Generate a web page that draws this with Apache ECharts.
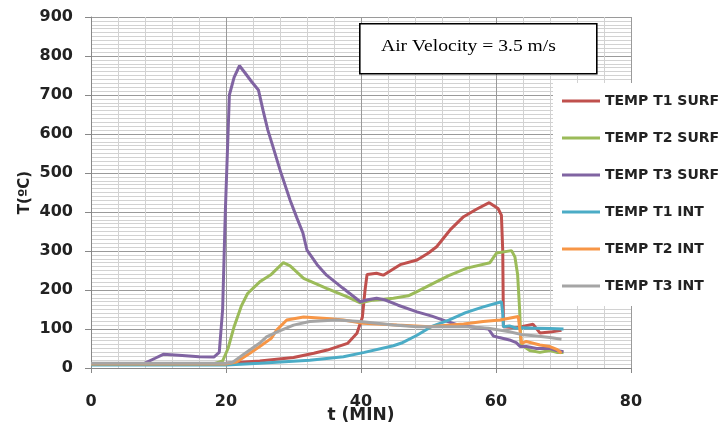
<!DOCTYPE html>
<html>
<head>
<meta charset="utf-8">
<script src="https://cdn.jsdelivr.net/npm/echarts@6/dist/echarts.min.js"></script>
<style>
html,body{margin:0;padding:0;background:#fff;}
#c{width:727px;height:429px;}
</style>
</head>
<body>
<div id="c"></div>
<script>
var seriesNames = ['TEMP T1 SURF','TEMP T2 SURF','TEMP T3 SURF','TEMP T1 INT','TEMP T2 INT','TEMP T3 INT'];
var xTicks = [0,20,40,60,80];
var yTicks = [0,100,200,300,400,500,600,700,800,900];

var t1Surf = [[0,10],[10,10],[20,12],[25,18],[30,27],[33,38],[35,46],[38,63],[39.4,89],[40.2,130],[40.6,200],[40.9,240],[42.3,243],[43.3,238],[45.8,265],[48.3,277],[50,295],[51.2,311],[53.2,354],[55.2,388],[57.1,407],[59,424],[60.3,409],[60.8,392],[61,300],[61.1,106],[63,103],[64.3,108],[65.5,112],[66.5,90],[68,92],[69.7,97]];
var t2Surf = [[0,10],[18,10],[19.5,18],[20.3,50],[21.2,106],[22.3,160],[23.2,191],[25,221],[26.7,240],[28.5,270],[29.5,262],[31.5,230],[34.9,204],[37.9,183],[39.9,167],[41.8,174],[44.8,179],[47,185],[48.3,196],[50.7,217],[53,237],[55.7,256],[59.1,270],[60.1,295],[62.3,301],[62.8,285],[63.2,240],[63.5,150],[63.7,60],[65,45],[66.5,40],[68,45],[69,40],[70,40]];
var t3Surf = [[0,10],[7.9,12],[9.5,25],[10.7,35],[13,33],[16,29],[18.2,28],[19,40],[19.5,150],[19.9,400],[20.5,700],[21.2,745],[22,775],[22.8,757],[23.8,734],[24.8,713],[25.5,660],[26.2,610],[27,565],[28,508],[29.5,430],[30.5,385],[31.4,346],[32,302],[33.5,265],[34.9,238],[37.3,205],[39.9,170],[41,175],[42.3,179],[43.5,175],[45.5,161],[48.3,144],[50.5,133],[52.5,121],[54.5,110],[57,104],[58.9,100],[59.6,82],[60.5,78],[62,72],[63,65],[63.6,55],[64.5,55],[66,50],[68,50],[69,45],[70,42]];
var t1Int = [[0,8],[20,8],[25,12],[32.4,20],[37.4,29],[40.5,40],[44.8,57],[46,64],[48.3,84],[50.4,106],[53,123],[55.5,142],[58,156],[60.8,170],[61,140],[61.1,106],[62,108],[63,102],[64,103],[66,102],[68,101],[70,100]];
var t2Int = [[0,10],[20,10],[21.5,15],[23.7,40],[25,55],[26.7,76],[27.5,97],[29,123],[31.5,131],[34.9,127],[37.4,123],[40.3,115],[45.3,110],[50.2,106],[53.2,110],[55.2,113],[58.1,119],[60.6,123],[63.3,132],[63.6,90],[63.8,63],[64.5,68],[66.5,59],[68,55],[69,48],[69.7,38]];
var t3Int = [[0,12],[20,12],[21,15],[23,40],[25,64],[26,80],[27.5,92],[30,110],[32.4,119],[36.4,123],[39.9,119],[44.8,110],[48.3,106],[55.7,106],[58.9,102],[62,93],[64,85],[66,82],[68,78],[69.7,74]];

var seriesData = [t1Surf,t2Surf,t3Surf,t1Int,t2Int,t3Int];
var colors = ['#C0504D','#9BBB59','#8064A2','#4BACC6','#F79646','#A5A5A5'];

var chart = echarts.init(document.getElementById('c'), null, {renderer:'canvas'});
var labelFont = 'DejaVu Sans';
chart.setOption({
  animation:false,
  backgroundColor:'#fff',
  color: colors,
  grid:{left:91,right:96,top:17,bottom:61,containLabel:false,outerBoundsMode:'none'},
  xAxis:{
    type:'value',min:xTicks[0],max:xTicks[xTicks.length-1],interval:20,
    name:'t (MIN)',nameLocation:'middle',nameGap:39,nameMoveOverlap:false,
    nameTextStyle:{fontFamily:labelFont,fontWeight:'bold',fontSize:17,color:'#222'},
    axisLine:{show:true,onZero:false,lineStyle:{color:'#888',width:1}},
    axisTick:{show:true,length:5,inside:false,lineStyle:{color:'#888'}},
    axisLabel:{margin:26,fontFamily:labelFont,fontWeight:'bold',fontSize:16,color:'#222'},
    splitLine:{show:true,lineStyle:{color:'#9a9a9a',width:1}},
    minorTick:{show:false,splitNumber:5},
    minorSplitLine:{show:true,lineStyle:{color:'#d2d2d2',width:1}}
  },
  yAxis:{
    type:'value',min:yTicks[0],max:yTicks[yTicks.length-1],interval:100,
    name:'T(ºC)',nameLocation:'middle',nameGap:58,nameRotate:90,nameMoveOverlap:false,
    nameTextStyle:{fontFamily:labelFont,fontWeight:'bold',fontSize:15,color:'#222'},
    axisLine:{show:true,lineStyle:{color:'#888',width:1}},
    axisTick:{show:true,length:6,lineStyle:{color:'#888'}},
    axisLabel:{margin:18,fontFamily:labelFont,fontWeight:'bold',fontSize:16,color:'#222'},
    splitLine:{show:true,lineStyle:{color:'#9a9a9a',width:1}},
    minorTick:{show:false,splitNumber:10},
    minorSplitLine:{show:true,lineStyle:{color:'#d2d2d2',width:1}}
  },
  legend:{
    orient:'vertical',left:553,top:83,
    backgroundColor:'#fff',
    padding:[11,10,13,9],
    icon:'rect',
    itemWidth:38,itemHeight:3,itemGap:23,
    textStyle:{fontFamily:labelFont,fontWeight:'bold',fontSize:14,lineHeight:14,color:'#222'},
    data:seriesNames
  },
  graphic:[
    {type:'rect',left:359,top:23,z:100,shape:{width:237,height:50},style:{fill:'#fff',stroke:'#000',lineWidth:1.6}},
    {type:'text',left:381,top:37,z:101,scaleX:1.12,style:{text:'Air Velocity = 3.5 m/s',fontFamily:'Liberation Serif',fontSize:17.5,fill:'#000'}}
  ],
  series: seriesNames.map(function(n,i){
    return {name:n,type:'line',data:seriesData[i],symbol:'none',showSymbol:false,
      lineStyle:{width:3,color:colors[i]},itemStyle:{color:colors[i]},z:2+i};
  })
});
</script>
</body>
</html>
